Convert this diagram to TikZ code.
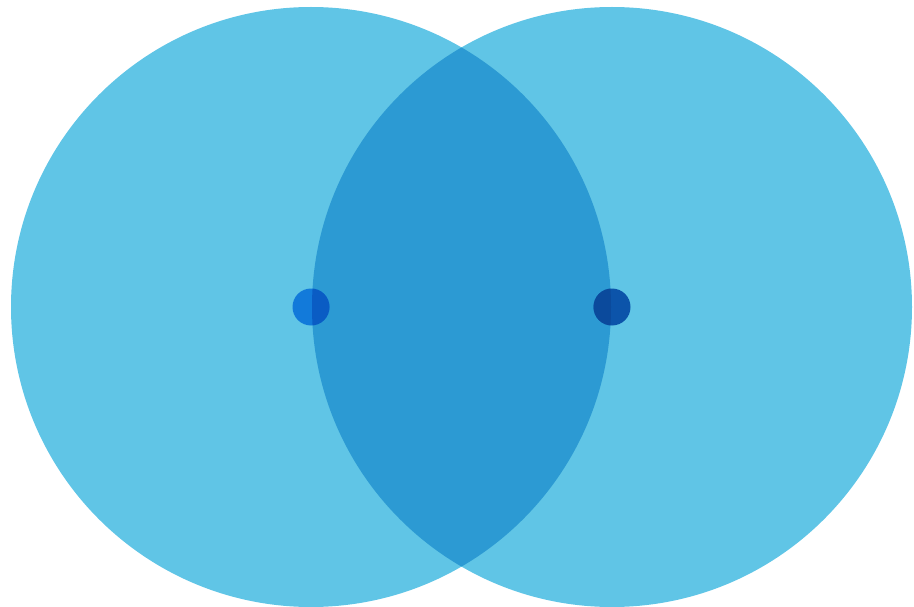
\documentclass[tikz,border=0pt]{standalone}
\definecolor{circlight}{RGB}{96,197,230}
\definecolor{lensblue}{RGB}{44,154,211}
\definecolor{dotLa}{RGB}{18,122,218}
\definecolor{dotLb}{RGB}{10,92,196}
\definecolor{dotRa}{RGB}{11,74,156}
\definecolor{dotRb}{RGB}{12,84,170}
\tikzset{
  bigcirc/.style={fill=circlight},
}
\begin{document}
\begin{tikzpicture}[x=1pt,y=-1pt]
\useasboundingbox (0,0) rectangle (914,607);
\coordinate (cL) at (311,307);
\coordinate (cR) at (612,307);
% circles
\fill[bigcirc] (cL) circle (300);
\fill[bigcirc] (cR) circle (300);
% lens
\begin{scope}
  \clip (cL) circle (300);
  \fill[lensblue] (cR) circle (300);
\end{scope}
% left dot
\fill[dotLa] (cL) circle (18.5);
\begin{scope}
  \clip (cR) circle (300);
  \fill[dotLb] (cL) circle (18.5);
\end{scope}
% right dot
\fill[dotRb] (cR) circle (18.5);
\begin{scope}
  \clip (cL) circle (300);
  \fill[dotRa] (cR) circle (18.5);
\end{scope}
\end{tikzpicture}
\end{document}
